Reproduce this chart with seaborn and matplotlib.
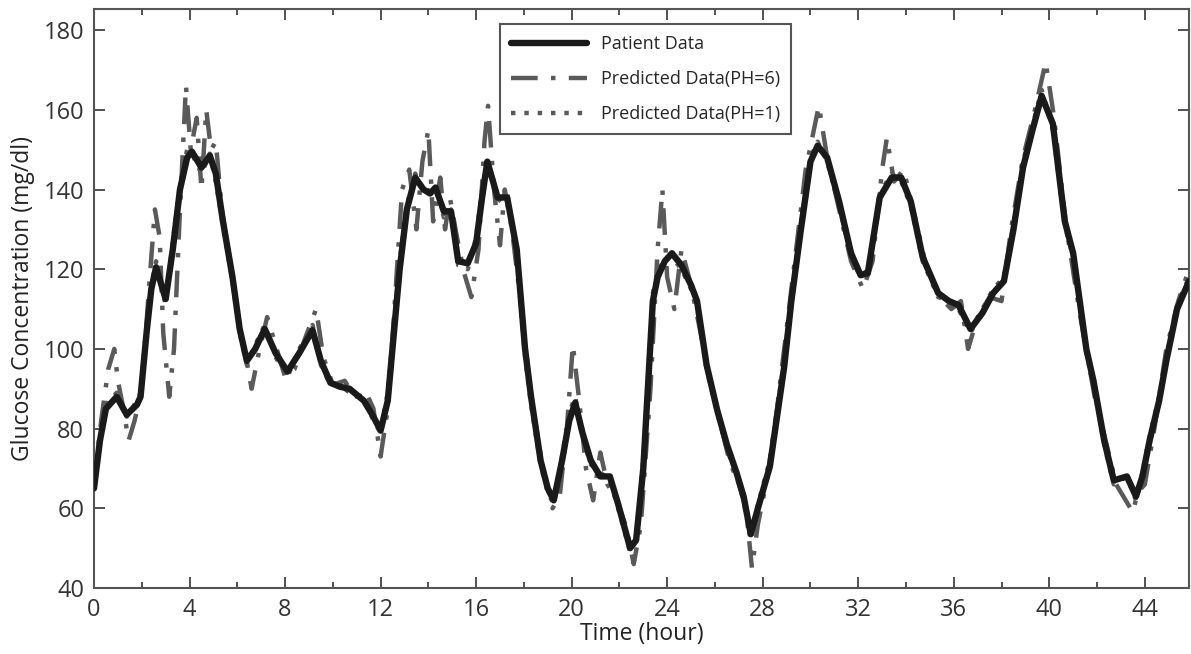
import matplotlib
matplotlib.use("Agg")
import matplotlib.pyplot as plt
import seaborn as sns
import numpy as np
from matplotlib.ticker import MultipleLocator

# ---- data ----
patient_t = [0.0, 0.25, 0.5, 0.95, 1.37, 1.8, 1.95, 2.2, 2.4, 2.6, 3.0, 3.3, 3.6, 3.9, 4.1,
             4.5, 4.85, 5.1, 5.4, 5.8, 6.1, 6.4, 6.75, 7.15, 7.6, 8.1, 8.6, 9.15, 9.5, 9.9,
             10.3, 10.7, 11.3, 11.7, 12.0, 12.3, 12.8, 13.1, 13.45, 13.8, 14.07, 14.3, 14.65, 14.95,
             15.25, 15.65, 16.0, 16.25, 16.47, 16.9, 17.3, 17.7, 18.05, 18.3, 18.7, 19.0, 19.25,
             19.6, 19.9, 20.15, 20.45, 20.8, 21.2, 21.6, 21.95, 22.45, 22.7, 23.0, 23.4, 23.6,
             23.9, 24.2, 24.6, 25.0, 25.25, 25.65, 26.1, 26.5, 26.9, 27.2, 27.5, 27.8, 28.3,
             28.9, 29.2, 29.6, 30.0, 30.3, 30.7, 31.2, 31.7, 32.1, 32.4, 32.9, 33.4, 33.8, 34.2,
             34.7, 35.35, 35.8, 36.2, 36.45, 36.7, 37.2, 37.65, 38.1, 38.5, 38.9, 39.3, 39.68,
             40.15, 40.65, 41.0, 41.55, 41.85, 42.3, 42.7, 43.25, 43.63, 43.9, 44.2, 44.6, 44.9,
             45.35, 45.85]
patient_v = [65, 77, 85, 88, 83.5, 86, 88, 104, 115, 120.5, 112.5, 125, 140, 148, 149.5,
             145.5, 148.5, 144, 132, 118, 105, 97, 100, 105, 99, 94.3, 99, 104.7, 97, 91.5,
             90.5, 90, 87, 83, 79.5, 87, 120, 135, 143, 140, 139, 140.5, 134.5, 134.5,
             122, 121.5, 126.5, 138, 147, 138, 138, 125, 100, 88, 72, 65, 62,
             72, 82, 86.5, 79, 72, 68, 68, 61, 50, 52, 70, 112, 118,
             122, 124, 121, 116, 112, 96, 84.5, 76, 69, 63, 53.5, 60, 70.5,
             95.5, 112, 130, 147, 151, 148, 137, 124, 118.5, 119, 138, 143, 143, 137,
             123, 114, 112, 111, 108, 105, 109, 114, 117, 130, 145.5, 155, 163.5,
             156.5, 132, 124, 100, 92, 77, 67, 68, 63, 68, 77, 87, 97,
             110, 117]

ph1_v = [66, 78, 86, 89, 83, 87, 89, 106, 116, 122, 111, 127, 141, 150, 149,
         144, 149, 142, 131, 117, 104, 96, 101, 106, 98, 93, 100, 106, 96, 91,
         91, 89, 88, 82, 79, 89, 122, 136, 144, 139, 140, 141, 133, 135,
         121, 120, 128, 140, 148, 137, 139, 123, 98, 86, 71, 64, 61,
         73, 84, 88, 78, 71, 69, 67, 60, 49, 53, 72, 114, 119,
         123, 123, 120, 115, 111, 95, 84, 75, 68, 62, 52, 61, 72,
         97, 113, 131, 148, 152, 147, 136, 123, 118, 120, 139, 144, 142, 136,
         122, 113, 112, 110, 107, 104, 110, 115, 118, 131, 147, 156, 165,
         155, 131, 123, 99, 91, 76, 66, 68, 62, 69, 78, 88, 98,
         111, 118]

ph6_t = [0.0, 0.3, 0.6, 0.85, 1.0, 1.2, 1.45, 1.7, 2.0, 2.3, 2.55, 2.75, 2.9, 3.15, 3.35,
         3.6, 3.85, 4.05, 4.3, 4.5, 4.7, 4.9, 5.1, 5.35, 5.7, 6.0, 6.3, 6.6, 6.9, 7.25,
         7.6, 8.0, 8.4, 8.8, 9.3, 9.6, 10.0, 10.5, 10.9, 11.4, 11.7, 12.0, 12.3, 12.6,
         12.9, 13.2, 13.5, 13.75, 14.0, 14.2, 14.5, 14.7, 14.9, 15.2, 15.5, 15.8, 16.1,
         16.35, 16.5, 16.75, 17.0, 17.2, 17.5, 17.9, 18.3, 18.8, 19.2, 19.5, 19.8, 20.05,
         20.3, 20.6, 20.9, 21.2, 21.5, 21.9, 22.3, 22.6, 22.9, 23.3, 23.6, 23.8, 24.0,
         24.3, 24.6, 25.0, 25.4, 25.8, 26.2, 26.6, 27.0, 27.3, 27.55, 27.8, 28.2, 28.6,
         29.0, 29.4, 29.8, 30.35, 30.7, 31.2, 31.7, 32.2, 32.6, 33.0, 33.2, 33.5, 33.9,
         34.3, 34.8, 35.4, 35.9, 36.3, 36.6, 37.0, 37.5, 38.0, 38.4, 38.9, 39.4, 39.85,
         40.2, 40.7, 41.3, 41.9, 42.4, 42.8, 43.2, 43.5, 43.7, 44.0, 44.4, 44.9, 45.4, 45.85]
ph6_v = [66, 82, 95, 100, 92, 86, 77, 82, 90, 115, 135, 128, 104, 88, 100,
         135, 166, 150, 158, 140, 160, 150, 152, 135, 122, 108, 100, 90, 99, 108,
         101, 93, 95, 102, 110, 98, 91, 92, 88, 89, 85, 73, 85, 112,
         140, 145, 130, 147, 155, 132, 143, 130, 138, 128, 119, 113, 125,
         152, 161, 140, 126, 140, 130, 110, 88, 70, 60, 63, 80, 101,
         88, 70, 62, 74, 66, 62, 55, 46, 56, 90, 125, 140, 118,
         110, 125, 116, 104, 92, 82, 72, 66, 60, 45, 56, 68, 85,
         105, 125, 145, 161, 148, 135, 122, 115, 122, 145, 153, 142, 145,
         135, 122, 113, 110, 112, 100, 108, 113, 112, 130, 148, 160, 172,
         158, 131, 108, 88, 76, 66, 62, 59, 64, 66, 80, 100, 112, 120]

x_ticks = [0, 4, 8, 12, 16, 20, 24, 28, 32, 36, 40, 44]
y_ticks = [40, 60, 80, 100, 120, 140, 160, 180]

# ---- style ----
sns.set_style("ticks")
plt.rcParams['font.family'] = ['Open Sans', 'DejaVu Sans']

fig = plt.figure(figsize=(11.91, 6.54), dpi=100)
ax = fig.add_axes([94/1191, 1 - 588/654, (1189-94)/1191, (588-9)/654])

gray = "#5a5a5a"
sns.lineplot(x=ph6_t, y=ph6_v, ax=ax, color=gray, lw=3.2, linestyle=(0, (6, 3, 1, 3)),
             label="Predicted Data(PH=6)", zorder=2)
sns.lineplot(x=patient_t, y=ph1_v, ax=ax, color=gray, lw=3.2, linestyle=(0, (1, 2)),
             label="Predicted Data(PH=1)", zorder=3)
sns.lineplot(x=patient_t, y=patient_v, ax=ax, color="#1a1a1a", lw=4.6,
             label="Patient Data", zorder=4, solid_joinstyle='round', solid_capstyle='round')

ax.set_xlim(0, 45.85)
ax.set_ylim(40, 185.3)
ax.set_xticks(x_ticks)
ax.set_yticks(y_ticks)
ax.xaxis.set_minor_locator(MultipleLocator(2))
ax.tick_params(which='both', direction='in', top=True, right=True, colors="#333333",
               labelsize=17, width=1.2)
ax.tick_params(which='major', length=8, pad=7)
ax.tick_params(which='minor', length=4)
for s in ax.spines.values():
    s.set_color("#555555")
    s.set_linewidth(1.5)

ax.set_xlabel("Time (hour)", fontsize=16.5, color="#222222", labelpad=0)
ax.set_ylabel("Glucose Concentration (mg/dl)", fontsize=16.5, color="#222222", labelpad=6)

handles, labels = ax.get_legend_handles_labels()
order = [labels.index("Patient Data"), labels.index("Predicted Data(PH=6)"),
         labels.index("Predicted Data(PH=1)")]
leg = ax.legend([handles[i] for i in order], [labels[i] for i in order],
                loc='upper left', bbox_to_anchor=(0.371, 0.974), borderaxespad=0,
                fontsize=13, frameon=True, fancybox=False, handlelength=4.2,
                edgecolor="#555555", framealpha=1, borderpad=0.6, labelspacing=0.95)
leg.get_frame().set_linewidth(1.5)

fig.savefig("out.png", dpi=100)
